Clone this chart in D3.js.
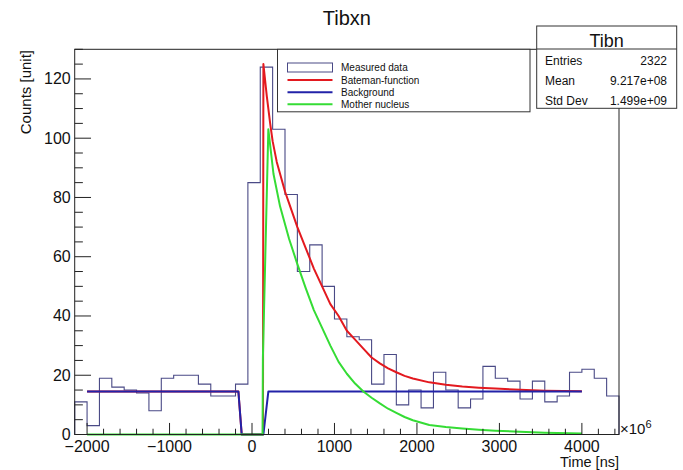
<!DOCTYPE html>
<html>
<head>
<meta charset="utf-8">
<script src="https://cdn.jsdelivr.net/npm/d3@7/dist/d3.min.js"></script>
<style>
body { margin: 0; background: #fff; }
text { font-family: "Liberation Sans", Arial, Helvetica, sans-serif; fill: #111; }
</style>
</head>
<body>
<script>
// histogram: 44 bins of 150 ns starting at -2150
var xRange = [-2150, 4450]
var binWidth = 150
var counts = [11, 3, 19, 16, 15, 14, 8, 19, 20, 20,
              17, 13, 13, 17, 85, 124, 103, 81, 55, 64,
              50, 39, 33, 32, 17, 27, 10, 15, 9, 21,
              15, 9, 12, 23, 19, 18, 12, 18, 11, 13,
              21, 22, 19, 13]

// fitted curves as [time, counts]
var bateman = [[-2000, 14.5], [-165, 14.5], [-125, 0], [133, 0], [138, 125], [180, 114],
    [220, 105], [250, 99], [300, 92], [350, 87], [400, 82], [450, 78], [550, 70],
    [650, 63], [750, 56], [850, 50], [950, 44], [1050, 40], [1150, 35], [1250, 32],
    [1350, 29], [1450, 26], [1550, 24], [1650, 22.3], [1750, 21], [1850, 19.8],
    [1950, 18.9], [2150, 17.6], [2350, 16.8], [2550, 16.2], [2750, 15.8],
    [2950, 15.5], [3250, 15.1], [3550, 14.8], [4000, 14.6]]
var background = [[-2000, 14.5], [-165, 14.5], [-125, 0], [138, 0], [198, 14.5], [4000, 14.5]]
var mother = [[-2000, 0], [128, 0], [132, 26], [198, 103], [260, 88], [340, 77],
    [450, 66], [550, 57.5], [650, 49.5], [750, 42], [850, 36], [950, 30], [1050, 24.5],
    [1150, 20.5], [1250, 17.2], [1350, 14.5], [1450, 12.4], [1550, 10.5], [1650, 8.7],
    [1750, 7.3], [1850, 5.9], [1950, 4.8], [2150, 3.2], [2350, 2.5], [2550, 2.0],
    [2750, 1.6], [2950, 1.3], [3250, 0.9], [3550, 0.6], [4000, 0.3]]

var yRange = [0, 130]
var xMajor = [-2000, -1000, 0, 1000, 2000, 3000, 4000]
var yMajor = [0, 20, 40, 60, 80, 100, 120]

var legendNames = ["Measured data", "Bateman-function", "Background", "Mother nucleus"]
var statsNames = ["Entries", "Mean", "Std Dev"]
var statsValues = ["2322", "9.217e+08", "1.499e+09"]

var colHist = "#4a4a86", colRed = "#e3191f", colBlue = "#2222a8", colGreen = "#35dc35"

var frame = {l: 74.7, r: 619, t: 49.3, b: 434.5}

var svg = d3.select("body").append("svg")
    .attr("width", 683)
    .attr("height", 470)

var x = d3.scaleLinear().domain(xRange).range([frame.l, frame.r])
var y = d3.scaleLinear().domain(yRange).range([frame.b, frame.t])

// title
svg.append("text")
    .attr("x", (frame.l + frame.r) / 2)
    .attr("y", 25)
    .attr("text-anchor", "middle")
    .style("font-size", "20px")
    .text("Tibxn")

// histogram as step outline
var histPath = d3.path()
histPath.moveTo(x(xRange[0]), y(0))
counts.forEach(function (c, i) {
    var x0 = xRange[0] + i * binWidth
    histPath.lineTo(x(x0), y(c))
    histPath.lineTo(x(x0 + binWidth), y(c))
})
histPath.lineTo(x(xRange[0] + counts.length * binWidth), y(0))
svg.append("path")
    .attr("d", histPath.toString())
    .attr("fill", "none")
    .attr("stroke", colHist)
    .attr("stroke-width", 1.1)

var line = d3.line()
    .x(function (d) { return x(d[0]) })
    .y(function (d) { return y(d[1]) })

var curves = [[bateman, colRed], [background, colBlue], [mother, colGreen]]
curves.forEach(function (c) {
    svg.append("path")
        .attr("d", line(c[0]))
        .attr("fill", "none")
        .attr("stroke", c[1])
        .attr("stroke-width", 2)
        .attr("stroke-linejoin", "round")
})

// frame
svg.append("rect")
    .attr("x", frame.l)
    .attr("y", frame.t)
    .attr("width", frame.r - frame.l)
    .attr("height", frame.b - frame.t)
    .attr("fill", "none")
    .attr("stroke", "#222")
    .attr("stroke-width", 1)

// y ticks (inside the frame, ROOT style)
var yTickLen = 0.03 * (frame.r - frame.l)
var yMinor = d3.range(yRange[0], yRange[1] + 0.1, 5)
svg.selectAll(".ytick")
    .data(yMinor)
    .enter()
    .append("line")
    .attr("class", "ytick")
    .attr("x1", frame.l)
    .attr("x2", function (d) { return frame.l + (d % 20 == 0 ? yTickLen : yTickLen / 2) })
    .attr("y1", function (d) { return y(d) })
    .attr("y2", function (d) { return y(d) })
    .attr("stroke", "#222")
svg.selectAll(".ylab")
    .data(yMajor)
    .enter()
    .append("text")
    .attr("x", frame.l - 4)
    .attr("y", function (d) { return y(d) + 5.5 })
    .attr("text-anchor", "end")
    .style("font-size", "16px")
    .text(function (d) { return d })

// x ticks
var xTickLen = 0.03 * (frame.b - frame.t)
var xMinor = d3.range(-2000, xRange[1], 200)
svg.selectAll(".xtick")
    .data(xMinor)
    .enter()
    .append("line")
    .attr("class", "xtick")
    .attr("x1", function (d) { return x(d) })
    .attr("x2", function (d) { return x(d) })
    .attr("y1", frame.b)
    .attr("y2", function (d) { return frame.b - (d % 1000 == 0 ? xTickLen : xTickLen / 2) })
    .attr("stroke", "#222")
svg.selectAll(".xlab")
    .data(xMajor)
    .enter()
    .append("text")
    .attr("x", function (d) { return x(d) })
    .attr("y", 452)
    .attr("text-anchor", "middle")
    .style("font-size", "16px")
    .text(function (d) { return d3.format("d")(d) })

// x10^6 exponent
var ex = svg.append("text")
    .attr("x", frame.r + 1)
    .attr("y", 434)
    .style("font-size", "15px")
ex.append("tspan").text("×10")
ex.append("tspan").attr("dy", -6).style("font-size", "11px").text("6")

// axis titles
svg.append("text")
    .attr("x", frame.r)
    .attr("y", 467)
    .attr("text-anchor", "end")
    .style("font-size", "14.5px")
    .text("Time [ns]")
svg.append("text")
    .attr("transform", "translate(31," + 50 + ") rotate(-90)")
    .attr("text-anchor", "end")
    .style("font-size", "15px")
    .text("Counts [unit]")

// legend
var lg = svg.append("g")
lg.append("rect")
    .attr("x", 277.5)
    .attr("y", frame.t)
    .attr("width", 252.5)
    .attr("height", 62.5)
    .attr("fill", "#fff")
    .attr("stroke", "#333")
var legendRows = [67.5, 80, 92.3, 104.3]
var legendCols = [colHist, colRed, colBlue, colGreen]
legendNames.forEach(function (name, i) {
    if (i == 0) {
        lg.append("rect")
            .attr("x", 287.5)
            .attr("y", legendRows[i] - 4.5)
            .attr("width", 45)
            .attr("height", 9)
            .attr("fill", "#fff")
            .attr("stroke", legendCols[i])
    } else {
        lg.append("line")
            .attr("x1", 287.5)
            .attr("x2", 332.5)
            .attr("y1", legendRows[i])
            .attr("y2", legendRows[i])
            .attr("stroke", legendCols[i])
            .attr("stroke-width", 2)
    }
    lg.append("text")
        .attr("x", 341)
        .attr("y", legendRows[i] + 3.6)
        .style("font-size", "10px")
        .text(name)
})

// stats box
var st = svg.append("g")
st.append("rect")
    .attr("x", 536.7)
    .attr("y", 26)
    .attr("width", 140)
    .attr("height", 82.3)
    .attr("fill", "#fff")
    .attr("stroke", "#333")
st.append("line")
    .attr("x1", 536.7)
    .attr("x2", 676.7)
    .attr("y1", 49)
    .attr("y2", 49)
    .attr("stroke", "#333")
st.append("text")
    .attr("x", 606.7)
    .attr("y", 47)
    .attr("text-anchor", "middle")
    .style("font-size", "18px")
    .text("Tibn")
statsNames.forEach(function (name, i) {
    st.append("text")
        .attr("x", 545)
        .attr("y", 64.5 + i * 20)
        .style("font-size", "12px")
        .text(name)
    st.append("text")
        .attr("x", 667)
        .attr("y", 64.5 + i * 20)
        .attr("text-anchor", "end")
        .style("font-size", "12px")
        .text(statsValues[i])
})
</script>
</body>
</html>
